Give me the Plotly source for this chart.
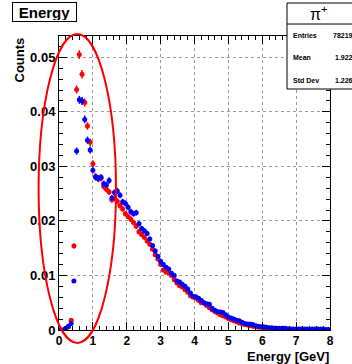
import numpy as np
import plotly.graph_objects as go

# ---- data ----
bin_width = 0.08
energy = [round(0.04 + 0.08 * i, 2) for i in range(100)]
red_counts = [
    0.0000, 0.0000, 0.0002, 0.0006, 0.0018, 0.0154, 0.0441, 0.0505, 0.0469, 0.0417,
    0.0374, 0.0344, 0.0305, 0.0282, 0.0277, 0.0278, 0.0263, 0.0258, 0.0253, 0.0239,
    0.0242, 0.0236, 0.0228, 0.0222, 0.0213, 0.0208, 0.0203, 0.0197, 0.0190, 0.0180,
    0.0175, 0.0170, 0.0163, 0.0157, 0.0148, 0.0138, 0.0130, 0.0120, 0.0110, 0.0106,
    0.0105, 0.0100, 0.0092, 0.0086, 0.0081, 0.0079, 0.0074, 0.0069, 0.0063, 0.0060,
    0.0058, 0.0054, 0.0050, 0.0049, 0.0045, 0.0041, 0.0037, 0.0034, 0.0031, 0.0028,
    0.0026, 0.0024, 0.0021, 0.0019, 0.0017, 0.0015, 0.0013, 0.0012, 0.0010, 0.0009,
    0.0008, 0.0007, 0.0006, 0.0005, 0.0005, 0.0004, 0.0004, 0.0003, 0.0003, 0.0003,
    0.0002, 0.0002, 0.0002, 0.0002, 0.0002, 0.0001, 0.0001, 0.0001, 0.0001, 0.0001,
    0.0001, 0.0001, 0.0001, 0.0001, 0.0001, 0.0001, 0.0001, 0.0001, 0.0000, 0.0000,
]
blue_counts = [
    0.0000, 0.0000, 0.0003, 0.0007, 0.0012, 0.0090, 0.0328, 0.0422, 0.0420, 0.0386,
    0.0348, 0.0330, 0.0293, 0.0280, 0.0278, 0.0280, 0.0268, 0.0266, 0.0274, 0.0242,
    0.0252, 0.0255, 0.0247, 0.0235, 0.0232, 0.0225, 0.0217, 0.0213, 0.0215, 0.0195,
    0.0186, 0.0182, 0.0177, 0.0167, 0.0155, 0.0145, 0.0135, 0.0126, 0.0120, 0.0115,
    0.0112, 0.0104, 0.0100, 0.0090, 0.0088, 0.0084, 0.0080, 0.0075, 0.0068, 0.0062,
    0.0061, 0.0058, 0.0054, 0.0050, 0.0048, 0.0047, 0.0040, 0.0036, 0.0034, 0.0033,
    0.0032, 0.0028, 0.0024, 0.0022, 0.0020, 0.0018, 0.0017, 0.0014, 0.0012, 0.0011,
    0.0011, 0.0010, 0.0008, 0.0007, 0.0006, 0.0006, 0.0005, 0.0004, 0.0004, 0.0003,
    0.0003, 0.0003, 0.0003, 0.0003, 0.0002, 0.0002, 0.0002, 0.0002, 0.0002, 0.0002,
    0.0002, 0.0002, 0.0002, 0.0002, 0.0002, 0.0002, 0.0002, 0.0002, 0.0001, 0.0001,
]
entries = 78219
stats_labels = ["Entries", "Mean", "Std Dev"]
stats_values = ["78219", "1.922", "1.226"]
x_ticks = [0, 1, 2, 3, 4, 5, 6, 7, 8]
y_ticks = [0, 0.01, 0.02, 0.03, 0.04, 0.05]
y_ticktext = ["0", "0.01", "0.02", "0.03", "0.04", "0.05"]

FONT = "Liberation Sans"
W, H = 352, 364
L, R, T, B = 59, 22, 36, 34
PW, PH = W - L - R, H - T - B


def px_x(p):
    return (p - L) / PW


def px_y(p):
    return (H - B - p) / PH


fig = go.Figure()
for vals, col in [(red_counts, "#ff0000"), (blue_counts, "#0000ff")]:
    err = [float(np.sqrt(v / entries)) for v in vals]
    fig.add_trace(go.Scatter(
        x=energy, y=vals, mode="markers",
        marker=dict(color=col, size=5, symbol="circle"),
        error_y=dict(type="data", array=err, color=col, thickness=1.5, width=0),
        error_x=dict(type="constant", value=bin_width / 2, color=col, thickness=1.5, width=0),
        showlegend=False, cliponaxis=True,
    ))

axis_common = dict(
    showline=True, linecolor="black", linewidth=1, mirror="ticks",
    ticks="inside", ticklen=8, tickwidth=1, tickcolor="black",
    showgrid=True, gridcolor="#9a9a9a", griddash="dot", gridwidth=1,
    zeroline=False,
)
fig.update_xaxes(range=[0, 8], tickvals=x_ticks,
                 tickfont=dict(family=FONT, size=12, color="black", weight="bold"),
                 minor=dict(dtick=0.2, ticks="inside", ticklen=4, tickcolor="black", showgrid=False),
                 **axis_common)
fig.update_yaxes(range=[0, 0.0539], tickvals=y_ticks, ticktext=y_ticktext,
                 tickfont=dict(family=FONT, size=13, color="black", weight="bold"),
                 minor=dict(dtick=0.002, ticks="inside", ticklen=4, tickcolor="black", showgrid=False),
                 **axis_common)

shapes = []
# red ellipse highlighting the low-energy peak
shapes.append(dict(type="circle", xref="paper", yref="paper",
                   x0=px_x(38.6), x1=px_x(116), y0=px_y(343), y1=px_y(34),
                   line=dict(color="#ff0000", width=2), fillcolor="rgba(0,0,0,0)", layer="above"))
# stats box
shapes.append(dict(type="rect", xref="paper", yref="paper",
                   x0=px_x(287), x1=px_x(370), y0=px_y(89), y1=px_y(3),
                   line=dict(color="black", width=1), fillcolor="white", layer="above"))
shapes.append(dict(type="line", xref="paper", yref="paper",
                   x0=px_x(287), x1=px_x(370), y0=px_y(24), y1=px_y(24),
                   line=dict(color="black", width=1), layer="above"))

ann = []
# title box
ann.append(dict(text="<b>Energy</b>", xref="paper", yref="paper", x=px_x(44), y=px_y(12),
                xanchor="center", yanchor="middle", showarrow=False,
                font=dict(family=FONT, size=15, color="black"),
                bordercolor="black", borderwidth=1, borderpad=1, bgcolor="white", width=61, height=16))
ann.append(dict(text="π<sup>+</sup>", xref="paper", yref="paper", x=px_x(319), y=px_y(13),
                xanchor="center", yanchor="middle", showarrow=False,
                font=dict(family=FONT, size=16, color="black")))
for i, (lab, val) in enumerate(zip(stats_labels, stats_values)):
    yy = px_y(35 + i * 22.5)
    ann.append(dict(text="<b>" + lab + "</b>", xref="paper", yref="paper", x=px_x(291), y=yy,
                    xanchor="left", yanchor="middle", showarrow=False,
                    font=dict(family=FONT, size=7, color="black")))
    ann.append(dict(text="<b>" + val + "</b>", xref="paper", yref="paper", x=px_x(355), y=yy,
                    xanchor="right", yanchor="middle", showarrow=False,
                    font=dict(family=FONT, size=7, color="black")))
# axis titles
ann.append(dict(text="<b>Counts</b>", xref="paper", yref="paper", x=px_x(19), y=px_y(36),
                xanchor="center", yanchor="top", textangle=-90, showarrow=False,
                font=dict(family=FONT, size=13, color="black")))
ann.append(dict(text="<b>Energy [GeV]</b>", xref="paper", yref="paper", x=1.0, y=px_y(364.5),
                xanchor="right", yanchor="bottom", showarrow=False, borderpad=0,
                font=dict(family=FONT, size=13, color="black")))

fig.update_layout(
    width=W, height=H, margin=dict(l=L, r=R, t=T, b=B, pad=0),
    paper_bgcolor="white", plot_bgcolor="white",
    shapes=shapes, annotations=ann,
    font=dict(family=FONT),
)
fig.write_html("out.html")
